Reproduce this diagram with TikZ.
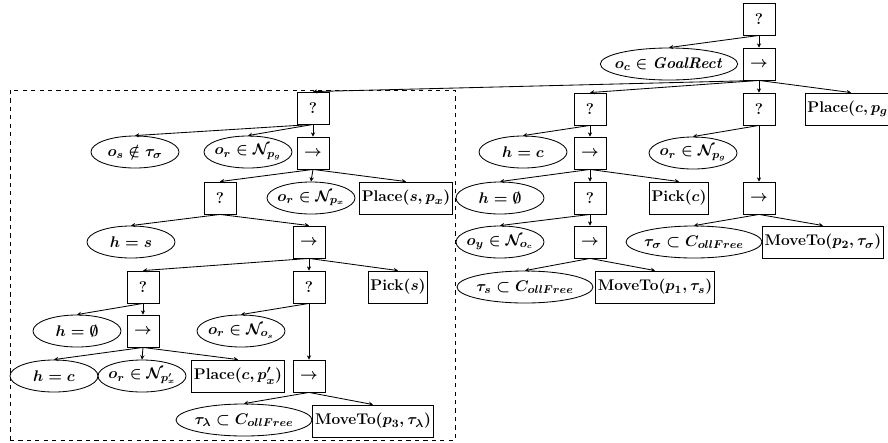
\documentclass[tikz,border=0pt]{standalone}
\usetikzlibrary{arrows.meta,shapes.geometric}
\tikzset{
  ctrl/.style={draw, semithick, minimum width=0.8cm, minimum height=0.8cm, inner sep=0pt, font=\fontsize{11}{13}\selectfont\boldmath\bfseries},
  act/.style={draw, semithick, minimum height=0.8cm, inner xsep=1.5pt, inner ysep=0pt, font=\fontsize{11}{13}\selectfont\boldmath\bfseries},
  cond/.style={draw, ellipse, semithick, minimum width=2.2cm, minimum height=0.8cm, inner sep=-4pt, font=\fontsize{11}{13}\selectfont\boldmath},
  widecond/.style={cond, minimum width=3.4cm},
  subtree/.style={draw, dashed, semithick, inner sep=0pt},
  treearrow/.style={-{Stealth[length=3pt,width=3pt]}, semithick},
}
\begin{document}
\begin{tikzpicture}[x=0.025cm, y=-0.025cm]
    \clip (0,0) rectangle (888,442);
    % dashed frame round the subtree of the left fallback
    \node[subtree, minimum width=11.125cm, minimum height=8.75cm] (frame) at (232.5, 265) {};
    % root and top sequence
    \node[ctrl] (root) at (759, 19) {?};
    \node[ctrl] (rootseq) at (759, 64) {$\rightarrow$};
    \node[widecond] (goal) at (669, 64) {$o_c \in \mathit{GoalRect}$};
    \node[ctrl] (lsel) at (313, 108) {?};
    \node[ctrl] (rsel1) at (590, 109) {?};
    \node[ctrl] (rsel2) at (759, 109) {?};
    \node[act] (placecg) at (851, 109) {Place$(c, p_g)$};
    % left subtree
    \node[cond] (nots) at (135, 152) {$o_s \notin \tau_\sigma$};
    \node[cond] (nearpg) at (248, 152) {$o_r \in \mathcal{N}_{p_g}$};
    \node[ctrl] (lseq) at (313, 153) {$\rightarrow$};
    \node[ctrl] (lsel2) at (220, 198) {?};
    \node[cond] (nearpx) at (311, 198) {$o_r \in \mathcal{N}_{p_x}$};
    \node[act] (placesx) at (406, 198) {Place$(s, p_x)$};
    \node[cond] (hs) at (131, 242) {$h = s$};
    \node[ctrl] (lseq2) at (309, 242) {$\rightarrow$};
    \node[ctrl] (lsel3) at (143, 287) {?};
    \node[ctrl] (lsel4) at (309, 287) {?};
    \node[act] (picks) at (398, 287) {Pick$(s)$};
    \node[cond] (hempty2) at (77, 331) {$h = \emptyset$};
    \node[ctrl] (lseq3) at (143, 331) {$\rightarrow$};
    \node[cond] (nearos) at (241, 331) {$o_r \in \mathcal{N}_{o_s}$};
    \node[cond] (hc2) at (54, 376) {$h = c$};
    \node[cond] (nearpx2) at (142, 376) {$o_r \in \mathcal{N}_{p'_x}$};
    \node[act] (placecpx) at (238, 376) {Place$(c, p'_x)$};
    \node[ctrl] (lseq4) at (309, 376) {$\rightarrow$};
    \node[widecond] (freelambda) at (244, 420) {$\tau_\lambda \subset C_{ollFree}$};
    \node[act] (moveto3) at (373, 421) {MoveTo$(p_3, \tau_\lambda)$};
    % right subtrees
    \node[cond] (hc) at (523, 152) {$h = c$};
    \node[ctrl] (rseq1) at (590, 153) {$\rightarrow$};
    \node[cond] (nearpg2) at (693, 153) {$o_r \in \mathcal{N}_{p_g}$};
    \node[cond] (hempty) at (500, 198) {$h = \emptyset$};
    \node[ctrl] (rsel3) at (590, 198) {?};
    \node[act] (pickc) at (679, 198) {Pick$(c)$};
    \node[ctrl] (rseq2) at (759, 198) {$\rightarrow$};
    \node[cond] (neary) at (500, 242) {$o_y \in \mathcal{N}_{o_c}$};
    \node[ctrl] (rseq3) at (590, 242) {$\rightarrow$};
    \node[widecond] (freesigma) at (694, 242) {$\tau_\sigma \subset C_{ollFree}$};
    \node[act] (moveto2) at (823, 242) {MoveTo$(p_2, \tau_\sigma)$};
    \node[widecond] (freets) at (525, 287) {$\tau_s \subset C_{ollFree}$};
    \node[act] (moveto1) at (655, 287) {MoveTo$(p_1, \tau_s)$};
    % connectors
    \draw[treearrow] (root.south) -- (goal.north);
    \draw[treearrow] (root.south) -- (rootseq.north);
    \draw[treearrow] (rootseq.south) -- (lsel.north);
    \draw[treearrow] (rootseq.south) -- (rsel1.north);
    \draw[treearrow] (rootseq.south) -- (rsel2.north);
    \draw[treearrow] (rootseq.south) -- (placecg.north);
    \draw[treearrow] (lsel.south) -- (nots.north);
    \draw[treearrow] (lsel.south) -- (nearpg.north);
    \draw[treearrow] (lsel.south) -- (lseq.north);
    \draw[treearrow] (lseq.south) -- (lsel2.north);
    \draw[treearrow] (lseq.south) -- (nearpx.north);
    \draw[treearrow] (lseq.south) -- (placesx.north);
    \draw[treearrow] (lsel2.south) -- (hs.north);
    \draw[treearrow] (lsel2.south) -- (lseq2.north);
    \draw[treearrow] (lseq2.south) -- (lsel3.north);
    \draw[treearrow] (lseq2.south) -- (lsel4.north);
    \draw[treearrow] (lseq2.south) -- (picks.north);
    \draw[treearrow] (lsel3.south) -- (hempty2.north);
    \draw[treearrow] (lsel3.south) -- (lseq3.north);
    \draw[treearrow] (lseq3.south) -- (hc2.north);
    \draw[treearrow] (lseq3.south) -- (nearpx2.north);
    \draw[treearrow] (lseq3.south) -- (placecpx.north);
    \draw[treearrow] (lsel4.south) -- (nearos.north);
    \draw[treearrow] (lsel4.south) -- (lseq4.north);
    \draw[treearrow] (lseq4.south) -- (freelambda.north);
    \draw[treearrow] (lseq4.south) -- (moveto3.north);
    \draw[treearrow] (rsel1.south) -- (hc.north);
    \draw[treearrow] (rsel1.south) -- (rseq1.north);
    \draw[treearrow] (rseq1.south) -- (hempty.north);
    \draw[treearrow] (rseq1.south) -- (rsel3.north);
    \draw[treearrow] (rseq1.south) -- (pickc.north);
    \draw[treearrow] (rsel3.south) -- (neary.north);
    \draw[treearrow] (rsel3.south) -- (rseq3.north);
    \draw[treearrow] (rseq3.south) -- (freets.north);
    \draw[treearrow] (rseq3.south) -- (moveto1.north);
    \draw[treearrow] (rsel2.south) -- (nearpg2.north);
    \draw[treearrow] (rsel2.south) -- (rseq2.north);
    \draw[treearrow] (rseq2.south) -- (freesigma.north);
    \draw[treearrow] (rseq2.south) -- (moveto2.north);
\end{tikzpicture}
\end{document}
